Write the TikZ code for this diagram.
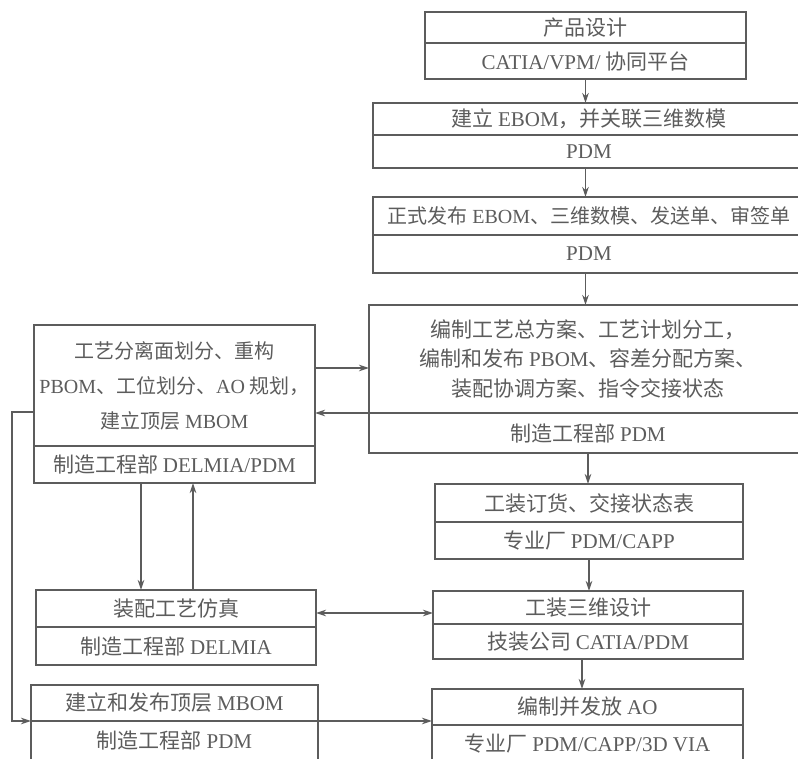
\documentclass[tikz,border=0pt]{standalone}
\usepackage{fontspec}
\setmainfont{Liberation Serif}
\newfontfamily\cjk{Noto Sans CJK SC}
\usetikzlibrary{positioning,arrows.meta}
\newcommand{\en}[1]{{\rmfamily #1}}
\definecolor{ink}{HTML}{5C5C5C}
\tikzset{
  box/.style={draw=ink, line width=1.1pt, text=ink, align=center, inner sep=0pt, outer sep=0pt,
    font=\cjk\fontsize{21}{30}\selectfont},
  flow/.style={draw=ink, line width=1.1pt, ->},
}

\begin{document}
\begin{tikzpicture}[x=1pt, y=-1pt, >={Stealth[length=10pt,width=6.5pt]}]
\useasboundingbox (0,0) rectangle (798,758);
\begin{scope}
\clip (0,0) rectangle (798,758);

% right column
\node[box, minimum width=321pt, minimum height=31pt] (design) at (585.5,27.5) {产品设计};
\node[box, minimum width=321pt, minimum height=36pt, below=0pt of design] (designT) {\en{CATIA/VPM/} 协同平台};

\node[box, minimum width=432pt, minimum height=32pt] (ebom) at (589,119) {建立 \en{EBOM}，并关联三维数模};
\node[box, minimum width=432pt, minimum height=33pt, below=0pt of ebom] (ebomT) {\en{PDM}};

\node[box, minimum width=432pt, minimum height=38pt, font=\cjk\fontsize{20}{30}\selectfont] (release) at (589,216)
  {正式发布 \en{EBOM}、三维数模、发送单、审签单};
\node[box, minimum width=432pt, minimum height=38pt, below=0pt of release] (releaseT) {\en{PDM}};

\node[box, minimum width=438pt, minimum height=108pt, font=\cjk\fontsize{21}{29.5}\selectfont] (plan) at (588,359)
  {编制工艺总方案、工艺计划分工，\\编制和发布 \en{PBOM}、容差分配方案、\\装配协调方案、指令交接状态};
\node[box, minimum width=438pt, minimum height=40pt, below=0pt of plan] (planT) {制造工程部 \en{PDM}};

\node[box, minimum width=308pt, minimum height=38pt] (order) at (589,503) {工装订货、交接状态表};
\node[box, minimum width=308pt, minimum height=37pt, below=0pt of order] (orderT) {专业厂 \en{PDM/CAPP}};

\node[box, minimum width=310pt, minimum height=33pt] (tool) at (588,607.5) {工装三维设计};
\node[box, minimum width=310pt, minimum height=35pt, below=0pt of tool] (toolT) {技装公司 \en{CATIA/PDM}};

\node[box, minimum width=311pt, minimum height=36pt] (ao) at (587.5,707) {编制并发放 \en{AO}};
\node[box, minimum width=311pt, minimum height=36pt, below=0pt of ao] (aoT) {专业厂 \en{PDM/CAPP/3D VIA}};

% left column
\node[box, minimum width=281pt, minimum height=121pt, font=\cjk\fontsize{20}{35}\selectfont] (split) at (174.5,385.5)
  {工艺分离面划分、重构\\\en{PBOM}、工位划分、\en{AO} 规划，\\建立顶层 \en{MBOM}};
\node[box, minimum width=281pt, minimum height=37pt, below=0pt of split] (splitT) {制造工程部 \en{DELMIA/PDM}};

\node[box, minimum width=280pt, minimum height=37pt] (sim) at (176,608.5) {装配工艺仿真};
\node[box, minimum width=280pt, minimum height=38pt, below=0pt of sim] (simT) {制造工程部 \en{DELMIA}};

\node[box, minimum width=287pt, minimum height=36pt] (mbom) at (174.5,703) {建立和发布顶层 \en{MBOM}};
\node[box, minimum width=287pt, minimum height=39pt, below=0pt of mbom] (mbomT) {制造工程部 \en{PDM}};

% main flow
\draw[flow] (designT.south) -- (designT.south |- ebom.north);
\draw[flow] (ebomT.south -| designT.south) -- (designT.south |- release.north);
\draw[flow] (releaseT.south -| designT.south) -- (designT.south |- plan.north);
\draw[flow] (planT.south) -- (planT.south |- order.north);
\draw[flow] (orderT.south) -- (orderT.south |- tool.north);
\draw[flow] ([xshift=-6pt]toolT.south) -- ([xshift=-6pt]toolT.south |- ao.north);

% links between the columns
\draw[flow] (split.east |- 0,368) -- (plan.west |- 0,368);
\draw[flow] (planT.north west) -- (planT.north west -| split.east);
\draw[flow] (splitT.south -| 141,0) -- (sim.north -| 141,0);
\draw[flow] (sim.north -| 193,0) -- (splitT.south -| 193,0);
\draw[flow, <->] (sim.east |- 0,613) -- (tool.west |- 0,613);
\draw[flow] (split.west |- 0,412) -| (mbomT.north west -| 12,0) -- (mbomT.north west);
\draw[flow] (mbomT.north east) -- (mbomT.north east -| ao.west);
\end{scope}
\end{tikzpicture}
\end{document}
